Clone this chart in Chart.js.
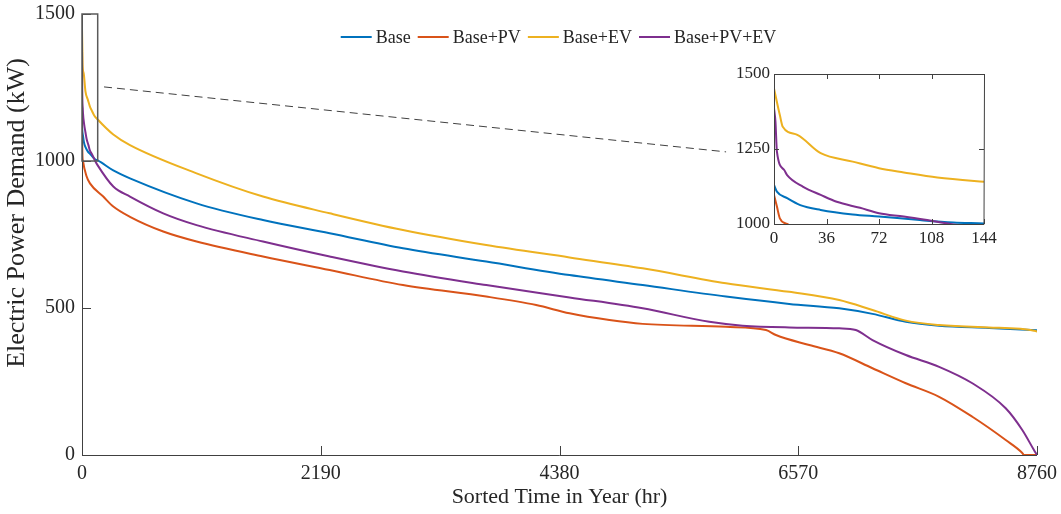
<!DOCTYPE html>
<html>
<head>
<meta charset="utf-8">
<script src="https://cdn.jsdelivr.net/npm/chart.js@4.4.0/dist/chart.umd.min.js"></script>
<style>
	body { margin: 0; background: #fff; }
	#wrap { position: relative; width: 1061px; height: 514px; }
	#main { position: absolute; left: 0; top: 0; }
	#inset { position: absolute; left: 700px; top: 55px; }
</style>
</head>
<body>
<div id="wrap">
	<canvas id="main" width="1061" height="514"></canvas>
	<canvas id="inset" width="300" height="200"></canvas>
</div>
<script>
const seriesNames = ['Base', 'Base+PV', 'Base+EV', 'Base+PV+EV'];
const seriesColors = ['#0072BD', '#D95319', '#EDB120', '#7E2F8E'];

// sorted load duration curves (hour, kW)
const baseHours = [0, 2, 9, 18, 32, 54, 72, 100, 123, 144, 287, 440, 1051, 1660, 2272, 2944, 3708, 4472, 5143, 5907, 6487, 6946, 7251, 7557, 7862, 8320, 8760];
const baseLoad = [1130, 1108, 1086, 1063, 1047, 1032, 1025, 1013, 1005, 1002, 968, 941, 856, 799, 754, 703, 658, 612, 578, 539, 514, 499, 480, 453, 440, 432, 424];

const pvHours = [0, 2, 4, 9, 40, 73, 195, 287, 440, 745, 1051, 1660, 2272, 2944, 3708, 4166, 4472, 4838, 5143, 5907, 6274, 6365, 6671, 6946, 7251, 7557, 7862, 8167, 8473, 8625, 8640, 8760];
const pvLoad = [1097, 1058, 1019, 1000, 950, 924, 879, 845, 810, 760, 726, 675, 629, 578, 539, 510, 482, 459, 446, 436, 425, 408, 374, 346, 295, 244, 198, 130, 51, 7, 0, 0];

const evHours = [0, 4, 6, 16, 32, 54, 72, 89, 112, 144, 287, 440, 1051, 1660, 2272, 2944, 3708, 4472, 5143, 5907, 6487, 6946, 7251, 7557, 7862, 8320, 8748, 8760];
const evLoad = [1452, 1363, 1324, 1297, 1236, 1208, 1186, 1172, 1155, 1141, 1090, 1054, 958, 879, 822, 765, 714, 672, 635, 584, 555, 527, 493, 457, 442, 434, 422, 419];

const pvEvHours = [0, 1, 2, 7, 9, 20, 32, 43, 59, 72, 89, 105, 121, 144, 287, 440, 745, 1051, 1660, 2272, 2944, 3708, 4472, 5143, 5754, 6059, 6487, 6946, 7098, 7251, 7557, 7862, 8167, 8473, 8625, 8732, 8760];
const pvEvLoad = [1386, 1341, 1241, 1180, 1163, 1124, 1097, 1074, 1054, 1036, 1025, 1013, 1000, 985, 913, 879, 822, 782, 726, 675, 624, 578, 536, 499, 453, 440, 434, 431, 425, 391, 340, 300, 244, 159, 85, 17, 0];

const xTicks = [0, 2190, 4380, 6570, 8760];
const yTicks = [0, 500, 1000, 1500];
const insetXTicks = [0, 36, 72, 108, 144];
const insetYTicks = [1000, 1250, 1500];

// zoomed window and the dashed pointer towards the inset
const zoomBox = [0, 144, 1000, 1500];
const pointerFrom = [202, 1252];
const pointerTo = [5908, 1031];

const FONT = "'Liberation Serif', 'Times New Roman', serif";
const INK = '#262626';

function makeDatasets() {
	let all = [[baseHours, baseLoad], [pvHours, pvLoad], [evHours, evLoad], [pvEvHours, pvEvLoad]];
	return all.map((s, i) => ({
		label: seriesNames[i],
		data: s[0].map((h, j) => ({x: h, y: s[1][j]})),
		borderColor: seriesColors[i],
		backgroundColor: seriesColors[i],
		borderWidth: 2,
		pointRadius: 0,
		fill: false,
		cubicInterpolationMode: 'monotone',
		order: 4 - i,
	}));
}

function fixedTicks(list) {
	return function(scale) {
		scale.ticks = list.map(v => ({value: v}));
	};
}

// pin the axis size and drop the label overhang so layout.padding decides the plot area
function fixedSize(w, h) {
	return function(s) {
		if(w) s.width = w;
		if(h) s.height = h;
		s.paddingTop = 0; s.paddingBottom = 0;
		s.paddingLeft = 0; s.paddingRight = 0;
	};
}

// matlab style axes: inward ticks, optional full box
const axesBox = {
	id: 'axesBox',
	afterDatasetsDraw: function(chart, args, opts) {
		let ctx = chart.ctx;
		let a = chart.chartArea;
		let x = chart.scales.x, y = chart.scales.y;
		let len = opts.tickLength;
		ctx.save();
		ctx.strokeStyle = opts.color;
		ctx.lineWidth = 1;
		ctx.beginPath();
		x.ticks.forEach(t => {
			let px = Math.round(x.getPixelForValue(t.value)) + 0.5;
			ctx.moveTo(px, a.bottom); ctx.lineTo(px, a.bottom - len);
			if(opts.box) { ctx.moveTo(px, a.top); ctx.lineTo(px, a.top + len); }
		});
		y.ticks.forEach(t => {
			let py = Math.round(y.getPixelForValue(t.value)) + 0.5;
			ctx.moveTo(a.left, py); ctx.lineTo(a.left + len, py);
			if(opts.box) { ctx.moveTo(a.right, py); ctx.lineTo(a.right - len, py); }
		});
		let l = Math.round(a.left) + 0.5, b = Math.round(a.bottom) + 0.5;
		ctx.moveTo(l, Math.round(a.top)); ctx.lineTo(l, b); ctx.lineTo(Math.round(a.right), b);
		if(opts.box) {
			ctx.lineTo(Math.round(a.right) + 0.5, Math.round(a.top) + 0.5);
			ctx.lineTo(l, Math.round(a.top) + 0.5);
		}
		ctx.stroke();
		ctx.restore();
	},
};

// zoom rectangle, dashed pointer, legend and y label on the main axes
const mainDecor = {
	id: 'mainDecor',
	afterDraw: function(chart) {
		let ctx = chart.ctx;
		let x = chart.scales.x, y = chart.scales.y;
		ctx.save();
		ctx.strokeStyle = '#5a5a5a';
		ctx.lineWidth = 1.5;
		let x0 = x.getPixelForValue(zoomBox[0]), x1 = x.getPixelForValue(zoomBox[1]);
		let y0 = y.getPixelForValue(zoomBox[2]), y1 = y.getPixelForValue(zoomBox[3]);
		ctx.strokeRect(x0, y1, x1 - x0, y0 - y1);

		ctx.strokeStyle = '#404040';
		ctx.lineWidth = 1;
		ctx.setLineDash([8, 5]);
		ctx.beginPath();
		ctx.moveTo(x.getPixelForValue(pointerFrom[0]), y.getPixelForValue(pointerFrom[1]));
		ctx.lineTo(x.getPixelForValue(pointerTo[0]), y.getPixelForValue(pointerTo[1]));
		ctx.stroke();
		ctx.setLineDash([]);

		// legend across the top of the axes
		ctx.font = '18px ' + FONT;
		ctx.textBaseline = 'middle';
		ctx.textAlign = 'left';
		let sample = 31, gap = 4, itemGap = 7;
		let sets = chart.data.datasets;
		let total = 0;
		sets.forEach((d, i) => {
			total += sample + gap + ctx.measureText(d.label).width;
			if(i > 0) total += itemGap;
		});
		let cx = 558.5 - total / 2, cy = 37;
		sets.forEach(d => {
			ctx.strokeStyle = d.borderColor;
			ctx.lineWidth = 2;
			ctx.beginPath();
			ctx.moveTo(cx, cy); ctx.lineTo(cx + sample, cy);
			ctx.stroke();
			cx += sample + gap;
			ctx.fillStyle = INK;
			ctx.fillText(d.label, cx, cy + 1);
			cx += ctx.measureText(d.label).width + itemGap;
		});

		// y axis label
		ctx.font = '26px ' + FONT;
		ctx.textAlign = 'center';
		ctx.translate(17, 213);
		ctx.rotate(-Math.PI / 2);
		ctx.fillStyle = INK;
		ctx.fillText('Electric Power Demand (kW)', 0, 0);
		ctx.restore();
	},
};

const noGrid = {display: false, drawTicks: false, tickLength: 0};

new Chart(document.getElementById('main'), {
	type: 'line',
	data: {datasets: makeDatasets()},
	plugins: [axesBox, mainDecor],
	options: {
		responsive: false,
		animation: false,
		devicePixelRatio: 1,
		layout: {padding: {top: 14, right: 24, left: 0, bottom: 0}},
		plugins: {
			legend: {display: false},
			tooltip: {enabled: false},
			axesBox: {tickLength: 9, color: '#404040', box: false},
		},
		scales: {
			x: {
				type: 'linear',
				min: 0,
				max: 8760,
				afterBuildTicks: fixedTicks(xTicks),
				afterFit: fixedSize(0, 59),
				grid: noGrid,
				border: {display: false},
				ticks: {
					color: INK,
					font: {family: FONT, size: 20},
					padding: 7,
					maxRotation: 0,
					callback: v => String(v),
				},
				title: {
					display: true,
					text: 'Sorted Time in Year (hr)',
					color: INK,
					font: {family: FONT, size: 22},
					padding: {top: 0, bottom: 4},
				},
			},
			y: {
				type: 'linear',
				min: 0,
				max: 1500,
				afterBuildTicks: fixedTicks(yTicks),
				afterFit: fixedSize(82, 0),
				grid: noGrid,
				border: {display: false},
				ticks: {
					color: INK,
					font: {family: FONT, size: 20},
					padding: 7,
					callback: v => String(v),
				},
			},
		},
	},
});

new Chart(document.getElementById('inset'), {
	type: 'line',
	data: {datasets: makeDatasets()},
	plugins: [axesBox],
	options: {
		responsive: false,
		animation: false,
		devicePixelRatio: 1,
		layout: {padding: {top: 19, right: 16, left: 0, bottom: 0}},
		plugins: {
			legend: {display: false},
			tooltip: {enabled: false},
			axesBox: {tickLength: 5, color: '#404040', box: true},
		},
		scales: {
			x: {
				type: 'linear',
				min: 0,
				max: 144,
				afterBuildTicks: fixedTicks(insetXTicks),
				afterFit: fixedSize(0, 31),
				grid: noGrid,
				border: {display: false},
				ticks: {
					color: INK,
					font: {family: FONT, size: 17},
					padding: 4,
					maxRotation: 0,
					callback: v => String(v),
				},
			},
			y: {
				type: 'linear',
				min: 1000,
				max: 1500,
				afterBuildTicks: fixedTicks(insetYTicks),
				afterFit: fixedSize(74, 0),
				grid: noGrid,
				border: {display: false},
				ticks: {
					color: INK,
					font: {family: FONT, size: 17},
					padding: 4,
					callback: v => String(v),
				},
			},
		},
	},
});
</script>
</body>
</html>
